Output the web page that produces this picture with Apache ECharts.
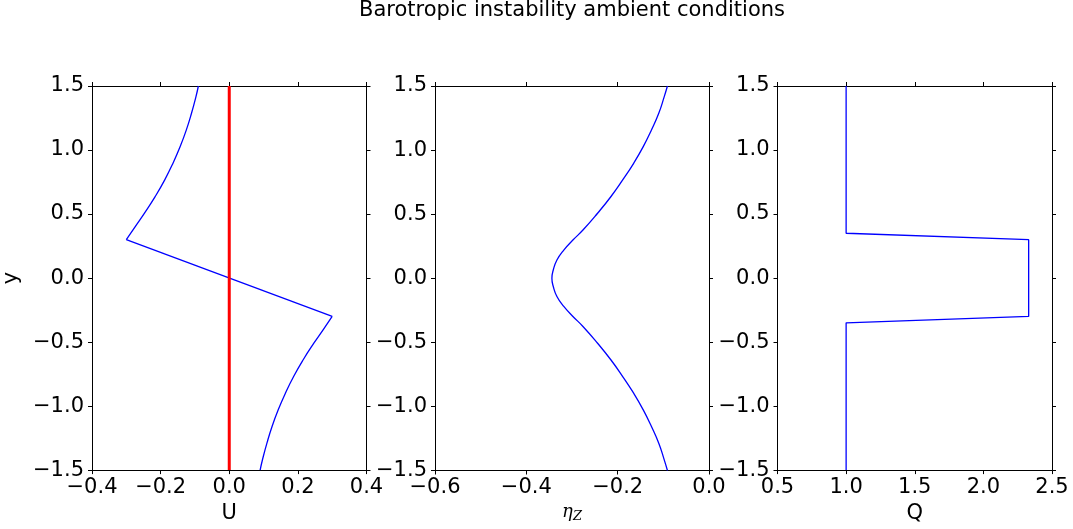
<!DOCTYPE html>
<html>
<head>
<meta charset="utf-8">
<script src="https://cdn.jsdelivr.net/npm/echarts@6/dist/echarts.min.js"></script>
<style>
  html, body { margin: 0; padding: 0; background: #fff; }
  #chart { width: 1073px; height: 529px; }
</style>
</head>
<body>
<div id="chart"></div>
<script>
// U profile (upper curve, link, lower curve)
var uUpperY = [1.5, 1.417, 1.287, 1.157, 1.027, 0.897, 0.767, 0.636, 0.507, 0.402, 0.3];
var uUpperX = [-0.090, -0.097, -0.110, -0.125, -0.143, -0.164, -0.188, -0.216, -0.247, -0.274, -0.300];
var uLowerY = [-0.3, -0.402, -0.507, -0.636, -0.767, -0.897, -1.027, -1.157, -1.287, -1.417, -1.5];
var uLowerX = [0.300, 0.274, 0.247, 0.216, 0.188, 0.164, 0.143, 0.125, 0.110, 0.097, 0.090];
var uLinkY = [0.3, -0.3];
var uLinkX = [-0.300, 0.300];
var uZeroY = [1.5, -1.5];
var uZeroX = [0, 0];

// eta_Z profile
var etaY = [1.5, 1.417, 1.287, 1.157, 1.027, 0.897, 0.767, 0.636, 0.507, 0.376, 0.298, 0.22, 0.142, 0.064, 0.0,
            -0.064, -0.142, -0.22, -0.298, -0.376, -0.507, -0.636, -0.767, -0.897, -1.027, -1.157, -1.287, -1.417, -1.5];
var etaX = [-0.091, -0.098, -0.110, -0.126, -0.144, -0.165, -0.189, -0.215, -0.244, -0.276, -0.298, -0.318, -0.333, -0.341, -0.344,
            -0.341, -0.333, -0.318, -0.298, -0.276, -0.244, -0.215, -0.189, -0.165, -0.144, -0.126, -0.110, -0.098, -0.091];

// Q profile
var qY = [1.5, 0.35, 0.3, -0.3, -0.35, -1.5];
var qX = [1.0, 1.0, 2.33, 2.33, 1.0, 1.0];

var yTicks = {min: -1.5, max: 1.5, interval: 0.5};
var xRanges = [
  {min: -0.4, max: 0.4, interval: 0.2, name: 'U'},
  {min: -0.6, max: 0.0, interval: 0.2, name: '{i|η}{s|Z}'},
  {min: 0.5, max: 2.5, interval: 0.5, name: 'Q'}
];

function pairs(xs, ys) {
  var out = [];
  for (var i = 0; i < xs.length; i++) out.push([xs[i], ys[i]]);
  return out;
}

function fmt(v) {
  var s = Math.abs(v).toFixed(1);
  return (v < -1e-9 ? '\u2212' : '') + s;
}

var FONT = 'DejaVu Sans';
var FS = 21;
var lefts = [92, 435, 777.5];
var widths = [274.5, 274, 274.5];

var grids = [], xAxes = [], yAxes = [];
for (var g = 0; g < 3; g++) {
  grids.push({left: lefts[g], top: 86, width: widths[g], height: 384.5});
  var r = xRanges[g];
  var axLine = {show: true, onZero: false, lineStyle: {color: '#000', width: 1}};
  var tick = {show: true, inside: false, length: 4, lineStyle: {color: '#000'}};
  xAxes.push({
    type: 'value', gridIndex: g, position: 'bottom',
    min: r.min, max: r.max, interval: r.interval,
    axisLine: axLine, axisTick: tick, splitLine: {show: false},
    axisLabel: {show: true, margin: 7, color: '#000', fontFamily: FONT, fontSize: FS,
      formatter: fmt, showMinLabel: true, showMaxLabel: true},
    name: r.name, nameLocation: 'middle', nameGap: 30,
    nameTextStyle: {color: '#000', fontFamily: FONT, fontSize: FS,
      rich: {
        i: {fontFamily: 'DejaVu Serif', fontStyle: 'italic', fontSize: 18, color: '#000'},
        s: {fontFamily: 'DejaVu Serif', fontStyle: 'italic', fontSize: 13, color: '#000', verticalAlign: 'bottom', padding: [8, 0, 0, 0]}
      }}
  });
  xAxes.push({
    type: 'value', gridIndex: g, position: 'top',
    min: r.min, max: r.max, interval: r.interval,
    axisLine: axLine, axisTick: tick, splitLine: {show: false},
    axisLabel: {show: false}
  });
  yAxes.push({
    type: 'value', gridIndex: g, position: 'left',
    min: yTicks.min, max: yTicks.max, interval: yTicks.interval,
    axisLine: axLine, axisTick: tick, splitLine: {show: false},
    axisLabel: {show: true, margin: 8, color: '#000', fontFamily: FONT, fontSize: FS,
      formatter: fmt, showMinLabel: true, showMaxLabel: true},
    name: g === 0 ? 'y' : '', nameLocation: 'middle', nameGap: 70, nameRotate: 90,
    nameTextStyle: {color: '#000', fontFamily: FONT, fontSize: FS}
  });
  yAxes.push({
    type: 'value', gridIndex: g, position: 'right',
    min: yTicks.min, max: yTicks.max, interval: yTicks.interval,
    axisLine: axLine, axisTick: tick, splitLine: {show: false},
    axisLabel: {show: false}
  });
}

function line(g, data, color, width, smooth) {
  return {
    type: 'line', xAxisIndex: g * 2, yAxisIndex: g * 2, data: data,
    showSymbol: false, symbol: 'none', smooth: smooth || false, animation: false,
    lineStyle: {color: color, width: width}, silent: true
  };
}

var chart = echarts.init(document.getElementById('chart'), null, {renderer: 'canvas'});
chart.setOption({
  animation: false,
  backgroundColor: '#fff',
  title: {
    text: 'Barotropic instability ambient conditions',
    left: 572, top: 0, textAlign: 'center', padding: 0,
    textStyle: {fontFamily: FONT, fontSize: FS, fontWeight: 'normal', color: '#000'}
  },
  grid: grids,
  xAxis: xAxes,
  yAxis: yAxes,
  series: [
    line(0, pairs(uUpperX, uUpperY), '#0000ff', 1.3, 0.5),
    line(0, pairs(uLinkX, uLinkY), '#0000ff', 1.3),
    line(0, pairs(uLowerX, uLowerY), '#0000ff', 1.3, 0.5),
    line(0, pairs(uZeroX, uZeroY), '#ff0000', 3),
    line(1, pairs(etaX, etaY), '#0000ff', 1.3, 0.5),
    line(2, pairs(qX, qY), '#0000ff', 1.3)
  ]
});
</script>
</body>
</html>
